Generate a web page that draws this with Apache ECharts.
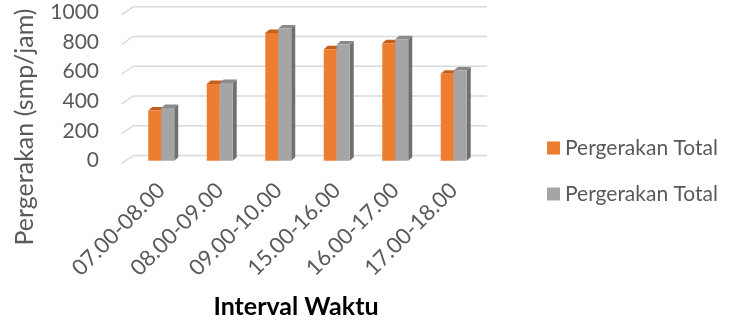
<!DOCTYPE html>
<html><head><meta charset="utf-8">
<script src="https://cdn.jsdelivr.net/npm/echarts@6/dist/echarts.min.js"></script>
<style>html,body{margin:0;padding:0;background:#fff}#c{width:731px;height:322px}</style>
</head><body><div id="c"></div>
<script>
const categories = ['07.00-08.00','08.00-09.00','09.00-10.00','15.00-16.00','16.00-17.00','17.00-18.00'];
const seriesNames = ['Pergerakan Total', 'Pergerakan Total '];
const orangeValues = [337, 516, 858, 750, 790, 584];
const grayValues = [355, 523, 889, 781, 817, 606];
const yTicks = [0, 200, 400, 600, 800, 1000];

const FONT = 'Lato';
const faces = [
  {front:'#ED7D31', top:'#C4601E', side:'#B5561A'},
  {front:'#A5A5A5', top:'#8A8A8A', side:'#707070'}
];
const DX = 4, DY = 3.5;

function barRender(idx){
  return function(params, api){
    const x = api.value(0), v = api.value(1);
    const base = api.coord([x, 0]);
    const top = api.coord([x, v]);
    const band = api.size([1, 0])[0];
    const w = band * 0.222;
    const x0 = idx === 0 ? base[0] - w : base[0];
    const x1 = x0 + w;
    const yb = base[1], yt = top[1];
    const f = faces[idx];
    return {type:'group', children:[
      {type:'polygon', shape:{points:[[x1,yb],[x1+DX,yb-DY],[x1+DX,yt-DY],[x1,yt]]}, style:{fill:f.side}},
      {type:'polygon', shape:{points:[[x0,yt],[x0+DX,yt-DY],[x1+DX,yt-DY],[x1,yt]]}, style:{fill:f.top}},
      {type:'rect', shape:{x:x0, y:yt, width:w, height:yb-yt}, style:{fill:f.front}}
    ]};
  };
}

function gridRender(params, api){
  const p = api.coord([0, api.value(1)]);
  const y = p[1];
  const cs = params.coordSys;
  const l = cs.x, r = cs.x + cs.width;
  return {type:'polyline', shape:{points:[[l-10.3, y+2.7],[l+1.3, y-5.2],[r+4, y-5.2]]},
    style:{stroke:'#D9D9D9', lineWidth:1.4, fill:null}};
}

const chart = echarts.init(document.getElementById('c'), null, {renderer:'canvas'});
chart.setOption({
  animation:false,
  color:['#ED7D31','#A5A5A5'],
  grid:{left:132, top:12, width:351, height:148.7, containLabel:false},
  legend:{
    data:seriesNames, orient:'vertical', left:542, top:131,
    icon:'rect', itemWidth:13, itemHeight:13, itemGap:22,
    textStyle:{fontFamily:FONT, fontSize:21, color:'#595959', lineHeight:24}
  },
  xAxis:{type:'category', data:categories,
    axisLine:{show:false}, axisTick:{show:false},
    axisLabel:{rotate:45, fontFamily:FONT, fontSize:22, color:'#595959', margin:26, interval:0}
  },
  yAxis:{type:'value', min:0, max:1000, interval:200,
    axisLine:{show:false}, axisTick:{show:false}, splitLine:{show:false},
    axisLabel:{fontFamily:FONT, fontSize:21, color:'#595959', margin:33, padding:[6,0,0,0],
      formatter:function(v){return String(v);}}
  },
  graphic:[
    {type:'text', x:25, y:127, rotation:Math.PI/2,
      style:{text:'Pergerakan (smp/jam)', font:'25px '+FONT, fill:'#595959', textAlign:'center', textVerticalAlign:'middle'}},
    {type:'text', x:296, y:307,
      style:{text:'Interval Waktu', font:'bold 25px '+FONT, fill:'#000000', textAlign:'center', textVerticalAlign:'middle'}}
  ],
  series:[
    {type:'custom', name:'grid', silent:true, z:1, renderItem:gridRender,
      data:yTicks.map(t=>[0,t])},
    {type:'custom', name:seriesNames[0], z:2, renderItem:barRender(0),
      itemStyle:{color:'#ED7D31'}, encode:{x:0,y:1},
      data:orangeValues.map((v,i)=>[i,v])},
    {type:'custom', name:seriesNames[1], z:3, renderItem:barRender(1),
      itemStyle:{color:'#A5A5A5'}, encode:{x:0,y:1},
      data:grayValues.map((v,i)=>[i,v])}
  ]
});
</script></body></html>
